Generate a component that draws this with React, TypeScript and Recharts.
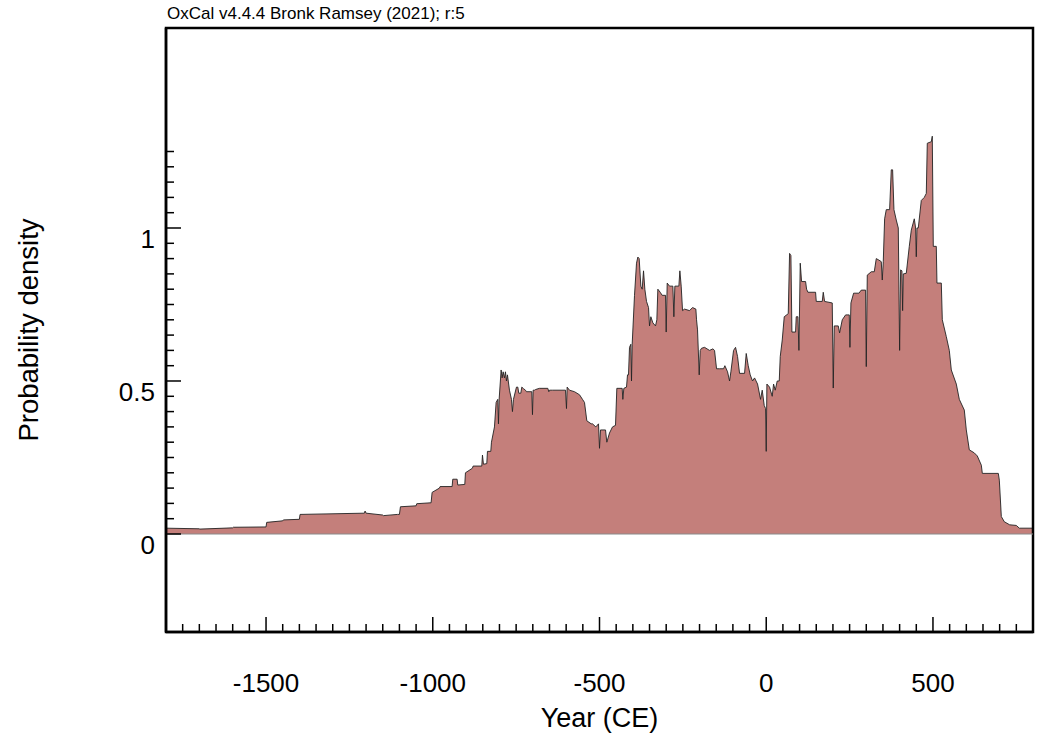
import React from 'react';
import { AreaChart, Area, XAxis, YAxis, ReferenceArea, ReferenceLine, Label } from 'recharts';

// years (CE), left to right
const years = [
  -1800, -1700, -1699, -1600, -1598, -1500, -1498, -1450, -1448, -1400, -1398, -1205, -1203, -1200,
  -1150, -1148, -1106, -1100, -1097, -1050, -1048, -1005, -1002, -980, -978, -942, -940, -927, -925,
  -904, -902, -881, -879, -853, -851, -848, -838, -836, -826, -824, -815, -810, -805, -803, -801,
  -795, -792, -789, -785, -782, -779, -776, -770, -764, -761, -758, -749, -745, -742, -736, -733,
  -728, -722, -719, -703, -701, -699, -695, -692, -680, -655, -652, -650, -641, -602, -599, -597,
  -590, -575, -560, -551, -545, -538, -525, -521, -511, -503, -500, -497, -482, -478, -470, -461,
  -452, -448, -432, -430, -427, -419, -416, -413, -410, -406, -404, -402, -395, -389, -385, -381,
  -376, -372, -368, -364, -359, -353, -350, -346, -340, -332, -328, -325, -318, -312, -302, -300,
  -297, -290, -280, -277, -274, -262, -259, -255, -251, -245, -230, -221, -211, -209, -206, -201,
  -198, -194, -185, -170, -160, -155, -149, -140, -128, -124, -116, -110, -106, -98, -92, -86, -80,
  -65, -60, -54, -48, -41, -35, -26, -17, -12, -6, -2, 0, 2, 10, 18, 22, 27, 33, 39, 42, 48, 54,
  66, 70, 74, 77, 88, 90, 95, 98, 102, 106, 118, 121, 125, 148, 150, 168, 171, 175, 198, 201, 204,
  216, 220, 228, 238, 249, 251, 254, 262, 278, 285, 298, 300, 303, 315, 324, 330, 338, 345, 348,
  351, 355, 360, 370, 375, 379, 383, 390, 396, 400, 403, 407, 409, 411, 420, 429, 435, 444, 448,
  450, 452, 456, 465, 474, 480, 483, 495, 498, 501, 510, 512, 525, 528, 540, 549, 555, 570, 579,
  594, 600, 609, 624, 633, 645, 648, 696, 699, 705, 714, 730, 750, 759, 800,
];

// probability density at each year
const density = [
  0.019, 0.017, 0.016, 0.02, 0.022, 0.023, 0.038, 0.043, 0.046, 0.048, 0.064, 0.068, 0.075, 0.068,
  0.062, 0.06, 0.064, 0.064, 0.089, 0.092, 0.099, 0.102, 0.136, 0.15, 0.155, 0.155, 0.179, 0.179, 0.16,
  0.162, 0.2, 0.215, 0.222, 0.222, 0.258, 0.228, 0.23, 0.27, 0.27, 0.3, 0.35, 0.43, 0.44, 0.36, 0.44,
  0.536, 0.51, 0.53, 0.51, 0.53, 0.5, 0.52, 0.47, 0.44, 0.4, 0.44, 0.48, 0.48, 0.46, 0.46, 0.48,
  0.475, 0.47, 0.465, 0.465, 0.39, 0.47, 0.47, 0.472, 0.476, 0.476, 0.465, 0.47, 0.47, 0.47, 0.41, 0.48,
  0.47, 0.465, 0.455, 0.44, 0.43, 0.37, 0.36, 0.36, 0.35, 0.36, 0.28, 0.34, 0.34, 0.3, 0.33, 0.35,
  0.355, 0.476, 0.476, 0.44, 0.476, 0.48, 0.52, 0.52, 0.61, 0.62, 0.5, 0.62, 0.78, 0.885, 0.905, 0.9,
  0.81, 0.8, 0.86, 0.8, 0.76, 0.74, 0.68, 0.71, 0.69, 0.68, 0.7, 0.8, 0.79, 0.78, 0.78, 0.66,
  0.82, 0.81, 0.81, 0.71, 0.81, 0.81, 0.86, 0.81, 0.73, 0.735, 0.73, 0.74, 0.735, 0.7, 0.667, 0.52,
  0.6, 0.607, 0.61, 0.6, 0.605, 0.6, 0.54, 0.54, 0.54, 0.55, 0.53, 0.5, 0.53, 0.6, 0.61, 0.58, 0.525,
  0.525, 0.59, 0.55, 0.52, 0.5, 0.51, 0.49, 0.44, 0.47, 0.42, 0.41, 0.27, 0.49, 0.48, 0.45, 0.49, 0.47, 0.5, 0.5, 0.58, 0.634, 0.71,
  0.72, 0.917, 0.91, 0.66, 0.66, 0.71, 0.71, 0.6, 0.885, 0.825, 0.825, 0.8, 0.79, 0.79, 0.76, 0.76, 0.79, 0.76, 0.755, 0.477, 0.68,
  0.68, 0.657, 0.7, 0.716, 0.716, 0.61, 0.755, 0.787, 0.787, 0.797, 0.797, 0.547, 0.846, 0.857, 0.857, 0.9, 0.895, 0.89, 0.83,
  0.89, 1.03, 1.06, 1.06, 1.19, 1.19, 1.06, 1.026, 1.0, 0.6, 0.863, 0.86, 0.73, 0.85, 0.852, 0.94, 0.993, 1.03, 1.0,
  0.906, 1.0, 1.0, 1.09, 1.1, 1.113, 1.277, 1.282, 1.3, 0.94, 0.94, 0.82, 0.82, 0.7, 0.645, 0.6, 0.536, 0.49, 0.44,
  0.405, 0.34, 0.275, 0.265, 0.255, 0.225, 0.198, 0.198, 0.176, 0.057, 0.04, 0.03, 0.028, 0.019, 0.019,
];

const data = years.map((year, i) => ({ year, p: density[i] }));

const xMajor = [-1500, -1000, -500, 0, 500];
const yMajor = [0, 0.5, 1];
const xDomain = [-1800, 800];
const yDomain = [-0.3203, 1.6536];

// minor ticks every 50 years / 0.05 density
const xTicks: number[] = [];
for (let y = -1750; y <= 750; y += 50) xTicks.push(y);
const yTicks: number[] = [];
for (let k = 0; k <= 25; k++) yTicks.push(Math.round(k * 5) / 100);

const FONT = '"Liberation Sans", Arial, sans-serif';

const XTick = (props: any) => {
  const { x, y, payload } = props;
  const major = xMajor.includes(payload.value);
  return (
    <g>
      <line x1={x} y1={y} x2={x} y2={y - (major ? 15 : 8)} stroke="#000" strokeWidth={1.5} />
      {major && (
        <text x={x} y={y + 60} textAnchor="middle" fontSize={26} fontFamily={FONT} fill="#000">
          {payload.value}
        </text>
      )}
    </g>
  );
};

const YTick = (props: any) => {
  const { x, y, payload } = props;
  const major = yMajor.some((m) => Math.abs(m - payload.value) < 1e-6);
  return (
    <g>
      <line x1={x} y1={y} x2={x + (major ? 15 : 8)} y2={y} stroke="#000" strokeWidth={1.5} />
      {major && (
        <text x={x - 11} y={y + 20} textAnchor="end" fontSize={26} fontFamily={FONT} fill="#000">
          {payload.value}
        </text>
      )}
    </g>
  );
};

export default function App() {
  return (
    <div style={{ position: 'absolute', left: 0, top: 0, width: 1037, height: 734, background: '#fff' }}>
      <div
        style={{ position: 'absolute', left: 167, top: 4, fontSize: 17, fontFamily: FONT, color: '#000', whiteSpace: 'nowrap' }}
      >
        OxCal v4.4.4 Bronk Ramsey (2021); r:5
      </div>
      <AreaChart width={1037} height={734} data={data} margin={{ top: 28, right: 4, bottom: 0, left: 0 }}>
        <XAxis
          dataKey="year"
          type="number"
          domain={xDomain}
          allowDataOverflow
          ticks={xTicks}
          interval={0}
          tick={<XTick />}
          tickLine={false}
          tickSize={0}
          tickMargin={0}
          height={102}
          axisLine={{ stroke: '#000', strokeWidth: 2.5 }}
        >
          <Label value="Year (CE)" position="insideBottom" offset={7} fontSize={27} fontFamily={FONT} fill="#000" />
        </XAxis>
        <YAxis
          type="number"
          domain={yDomain}
          allowDataOverflow
          ticks={yTicks}
          interval={0}
          tick={<YTick />}
          tickLine={false}
          tickSize={0}
          tickMargin={0}
          width={166}
          axisLine={{ stroke: '#000', strokeWidth: 2.5 }}
        >
          <Label
            value="Probability density"
            angle={-90}
            position="insideLeft"
            offset={28}
            fontSize={27.5}
            fontFamily={FONT}
            fill="#000"
            style={{ textAnchor: 'middle' }}
          />
        </YAxis>
        <Area
          type="linear"
          dataKey="p"
          baseValue={0}
          fill="#c47f7b"
          fillOpacity={1}
          stroke="#222"
          strokeWidth={0.9}
          dot={false}
          activeDot={false}
          isAnimationActive={false}
        />
        <ReferenceLine y={0} stroke="#8a8a8a" strokeWidth={1.2} />
        <ReferenceArea
          x1={xDomain[0]}
          x2={xDomain[1]}
          y1={yDomain[0]}
          y2={yDomain[1]}
          fill="none"
          stroke="#000"
          strokeWidth={2.5}
          ifOverflow="visible"
        />
      </AreaChart>
    </div>
  );
}
